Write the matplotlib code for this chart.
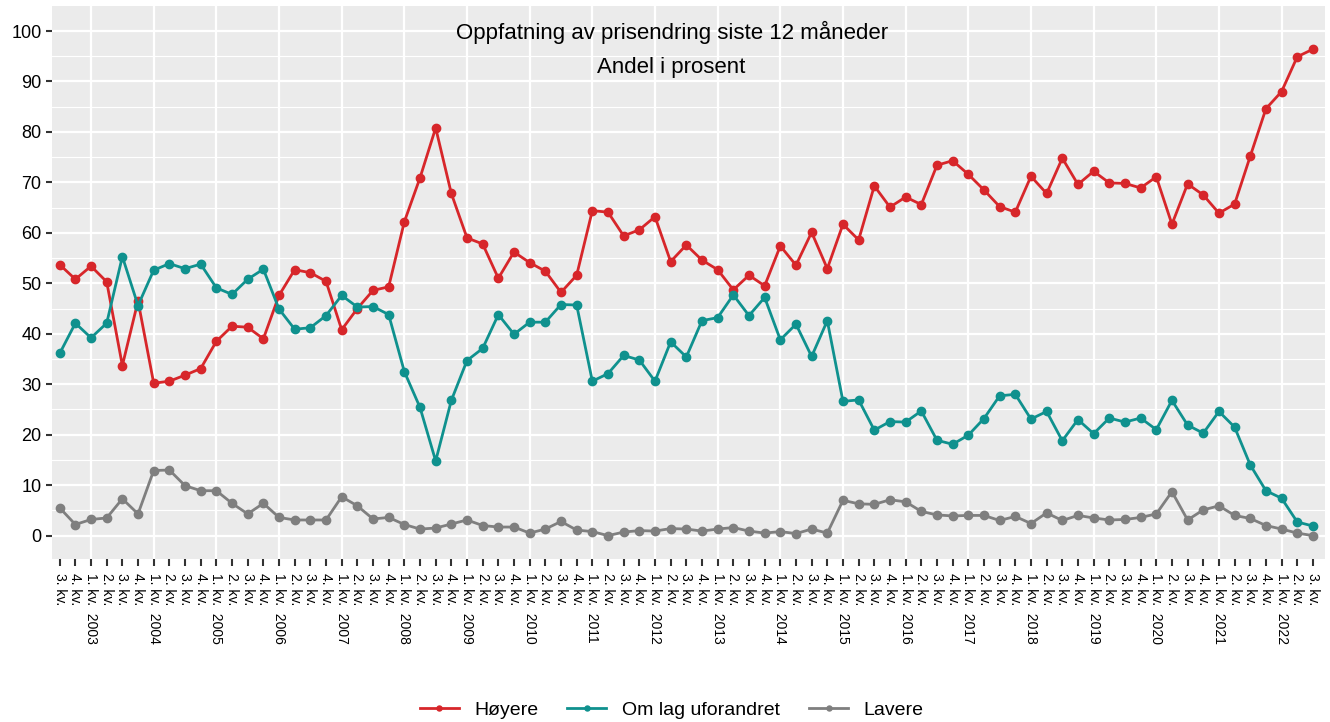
import matplotlib.pyplot as plt

# Andel i prosent, 3. kv. 2002 - 3. kv. 2022
hoyere = [53.7, 50.8, 53.4, 50.3, 33.7, 46.5, 30.2, 30.6, 31.8, 33.1,
          38.5, 41.5, 41.3, 39.0, 47.6, 52.7, 52.1, 50.4, 40.8, 45.0,
          48.6, 49.3, 62.2, 70.9, 80.8, 67.8, 59.0, 57.8, 51.0, 56.2,
          54.1, 52.4, 48.2, 51.6, 64.4, 64.1, 59.4, 60.6, 63.2, 54.3,
          57.6, 54.6, 52.7, 48.7, 51.6, 49.5, 57.4, 53.6, 60.1, 52.9,
          61.7, 58.6, 69.3, 65.1, 67.1, 65.6, 73.4, 74.3, 71.6, 68.5,
          65.2, 64.1, 71.2, 67.8, 74.8, 69.6, 72.2, 69.9, 69.8, 68.9,
          71.1, 61.7, 69.7, 67.5, 63.9, 65.7, 75.2, 84.6, 88.0, 94.9,
          96.4]
uforandret = [36.1, 42.1, 39.2, 42.1, 55.3, 45.6, 52.6, 53.9, 52.9, 53.8,
              49.1, 47.8, 50.8, 52.8, 44.9, 40.9, 41.2, 43.6, 47.6, 45.3,
              45.4, 43.8, 32.5, 25.4, 14.8, 26.8, 34.7, 37.1, 43.8, 39.9,
              42.3, 42.3, 45.8, 45.7, 30.6, 32.1, 35.7, 34.8, 30.6, 38.4,
              35.4, 42.6, 43.2, 47.7, 43.6, 47.2, 38.8, 41.9, 35.5, 42.6,
              26.6, 26.9, 20.9, 22.6, 22.5, 24.7, 18.9, 18.1, 19.9, 23.2,
              27.7, 28.0, 23.1, 24.6, 18.8, 23.0, 20.2, 23.3, 22.5, 23.3,
              21.0, 26.8, 21.9, 20.3, 24.6, 21.5, 14.0, 8.9, 7.4, 2.7,
              1.9]
lavere = [5.5, 2.2, 3.2, 3.5, 7.3, 4.3, 12.9, 13.0, 9.9, 8.9,
          8.9, 6.4, 4.3, 6.4, 3.6, 3.1, 3.1, 3.1, 7.7, 5.9,
          3.3, 3.6, 2.2, 1.3, 1.5, 2.3, 3.1, 2.0, 1.7, 1.7,
          0.5, 1.3, 2.8, 1.1, 0.8, 0.0, 0.7, 1.0, 0.9, 1.4,
          1.3, 0.9, 1.3, 1.6, 0.9, 0.5, 0.8, 0.4, 1.3, 0.5,
          7.0, 6.3, 6.2, 7.1, 6.7, 4.8, 4.1, 3.9, 4.0, 4.0,
          3.0, 3.8, 2.4, 4.5, 3.0, 4.0, 3.5, 3.1, 3.2, 3.6,
          4.3, 8.7, 3.1, 5.1, 5.9, 4.0, 3.4, 2.0, 1.3, 0.5,
          0.0]

first_year = 2003   # year shown on the first "1. kv." label
first_quarter = 3

plt.rcParams['font.family'] = ['Liberation Sans', 'DejaVu Sans']

n = len(hoyere)
x = list(range(n))
labels = []
year_ticks = []
for i in x:
    q = (first_quarter - 1 + i) % 4 + 1
    if q == 1:
        yr = first_year + (i - (4 - first_quarter + 1)) // 4
        labels.append(f"{q}. kv.  {yr}")
        year_ticks.append(i)
    else:
        labels.append(f"{q}. kv.")

fig = plt.figure(figsize=(13.3, 7.22), dpi=100)
ax = fig.add_axes([0.039, 0.226, 0.957, 0.766])
ax.set_facecolor('#EBEBEB')

series = [(hoyere, 'Høyere', '#D7262A'),
          (uforandret, 'Om lag uforandret', '#0F918E'),
          (lavere, 'Lavere', '#7F7F7F')]
for vals, name, col in series:
    ax.plot(x, vals, color=col, lw=2, marker='o', ms=6, label=name, zorder=3)

ax.set_xlim(-0.5, n - 0.25)
ax.set_ylim(-4.6, 105)
ax.set_yticks(range(0, 101, 10))
ax.set_xticks(x)
ax.set_xticklabels(labels, rotation=-90, fontsize=10, va='top', ha='center')
ax.tick_params(axis='y', labelsize=13, length=4, width=1.5, color='#333333')
ax.tick_params(axis='x', length=5, width=1.5, color='#333333', pad=5)

ax.grid(False)
for v in range(0, 101, 10):
    ax.axhline(v, color='white', lw=1.6, zorder=1)
for v in range(5, 101, 10):
    ax.axhline(v, color='white', lw=0.8, zorder=1)
for i in year_ticks:
    ax.axvline(i, color='white', lw=1.6, zorder=1)

for s in ax.spines.values():
    s.set_visible(False)

fig.text(0.505, 1 - 32 / 722, 'Oppfatning av prisendring siste 12 måneder',
         ha='center', va='center', fontsize=16)
fig.text(0.505, 1 - 68 / 722, 'Andel i prosent',
         ha='center', va='center', fontsize=16)

fig.legend(loc='center', bbox_to_anchor=(0.505, 1 - 710 / 722), ncol=3,
           frameon=False, fontsize=14, handlelength=2, columnspacing=1.5,
           markerscale=0.6)

fig.savefig('out.png', dpi=100)
